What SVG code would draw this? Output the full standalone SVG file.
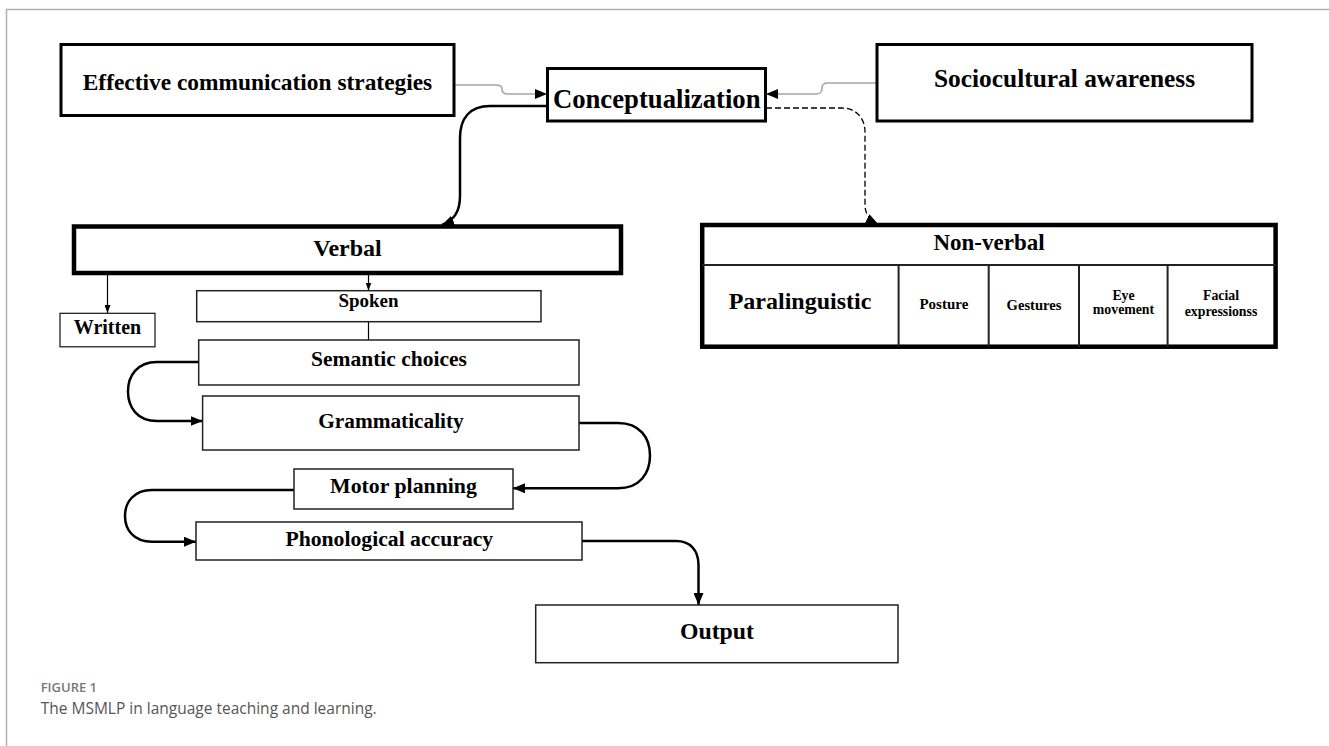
<svg xmlns="http://www.w3.org/2000/svg" width="1329" height="746" viewBox="0 0 1329 746">
<defs>
<style>
.t{font-family:"Liberation Serif","Times New Roman",serif;font-weight:bold;fill:#000;text-anchor:middle}
.box3{fill:#fff;stroke:#000;stroke-width:3}
.box4{fill:#fff;stroke:#000;stroke-width:4.5}
.thin{fill:#fff;stroke:#222;stroke-width:1.5}
.flow{fill:none;stroke:#000;stroke-width:2.5}
.gray{fill:none;stroke:#a6a6a6;stroke-width:1.6}
.cap{font-family:"Open Sans","Liberation Sans",sans-serif}
</style>
<marker id="ah" viewBox="0 0 12 10" refX="12" refY="5" markerWidth="12" markerHeight="10" orient="auto" markerUnits="userSpaceOnUse"><path d="M0,0 L12,5 L0,10 z" fill="#000"/></marker>
<marker id="ahs" viewBox="0 0 8 6" refX="8" refY="3" markerWidth="8" markerHeight="6" orient="auto" markerUnits="userSpaceOnUse"><path d="M0,0 L8,3 L0,6 z" fill="#000"/></marker>
</defs>
<rect width="1329" height="746" fill="#fff"/>
<path d="M6.5,746 V9.5 H1329" fill="none" stroke="#b0b0b0" stroke-width="1.5"/>

<g id="connectors">
<path class="gray" d="M454,85 H496 C501,85 502,87 502,89 C502,92 503,94 508,94 H547" marker-end="url(#ah)"/>
<path class="gray" d="M877,83 H828 C823,83 822,85 822,88 C822,92 821,94 816,94 H766" marker-end="url(#ah)"/>
<path class="flow" d="M547,106 H490 C470,106 460,118 460,138 V196 C460,212 454,220 442,225" marker-end="url(#ah)"/>
<path fill="none" stroke="#000" stroke-width="1.3" stroke-dasharray="6,3" d="M766,108 H842 C856,108 865,118 865,132 V205 C865,214 870,220 878,224" marker-end="url(#ah)"/>
<path fill="none" stroke="#222" stroke-width="1.3" stroke-dasharray="5,3" d="M880,229 H960"/>
<path fill="none" stroke="#000" stroke-width="1.2" d="M107.5,273 V313" marker-end="url(#ahs)"/>
<path fill="none" stroke="#000" stroke-width="1.2" d="M368.5,273 V290.5" marker-end="url(#ahs)"/>
<path fill="none" stroke="#000" stroke-width="1.2" d="M368.5,321.5 V340"/>
<path class="flow" d="M198.7,362 H157 C137,362 128,376 128,391.5 C128,407 137,421 157,421 H202.6" marker-end="url(#ah)"/>
<path class="flow" d="M579,423 H618 C640,423 650,438 650,455.5 C650,473 640,488.3 618,488.3 H513" marker-end="url(#ah)"/>
<path class="flow" d="M294,490 H152 C134,490 125,502 125,516 C125,530 134,541.7 152,541.7 H196" marker-end="url(#ah)"/>
<path class="flow" d="M582,541 H676 C690,541 698.5,550 698.5,565 V605" marker-end="url(#ah)"/>
</g>

<g id="effective">
<rect class="box3" x="61" y="44.5" width="393" height="71"/>
<text class="t" x="257.5" y="90" font-size="23.4">Effective communication strategies</text>
</g>
<g id="conceptualization">
<rect class="box3" x="547.5" y="68.5" width="218" height="52.5"/>
<text class="t" x="656.7" y="108" font-size="26.7">Conceptualization</text>
</g>
<g id="sociocultural">
<rect class="box3" x="877" y="44.5" width="375" height="76.5"/>
<text class="t" x="1064.5" y="87" font-size="25.4">Sociocultural awareness</text>
</g>
<g id="verbal">
<rect class="box4" x="74" y="226.5" width="547" height="46.5"/>
<text class="t" x="347.5" y="256" font-size="24">Verbal</text>
</g>
<g id="written">
<rect fill="#fff" stroke="#111" stroke-width="1.2" x="60" y="313.3" width="95" height="33.5"/>
<text class="t" x="107.5" y="333.5" font-size="20">Written</text>
</g>
<g id="spoken">
<rect class="thin" x="196.7" y="290.7" width="344.3" height="31"/>
<text class="t" x="368.5" y="307" font-size="19">Spoken</text>
</g>
<g id="semantic">
<rect class="thin" x="198.7" y="340" width="380.3" height="45"/>
<text class="t" x="389" y="366" font-size="21.5">Semantic choices</text>
</g>
<g id="grammaticality">
<rect class="thin" x="202.6" y="396" width="376.4" height="54"/>
<text class="t" x="391" y="427.5" font-size="21.3">Grammaticality</text>
</g>
<g id="motor">
<rect class="thin" x="294" y="469" width="219" height="40"/>
<text class="t" x="403.5" y="493" font-size="21.8">Motor planning</text>
</g>
<g id="phonological">
<rect class="thin" x="196" y="522" width="386" height="38"/>
<text class="t" x="389.3" y="545.5" font-size="21.7">Phonological accuracy</text>
</g>
<g id="output">
<rect class="thin" x="535.7" y="605" width="362.3" height="57.7"/>
<text class="t" x="717" y="638.5" font-size="23.8">Output</text>
</g>
<g id="nonverbal">
<rect class="box4" x="702.2" y="225" width="573.4" height="121.7"/>
<path d="M702.2,265 H1275.6 M898.6,265 V346.7 M988.7,265 V346.7 M1079,265 V346.7 M1167.6,265 V346.7" stroke="#222" stroke-width="2" fill="none"/>
<text class="t" x="989" y="249.5" font-size="23">Non-verbal</text>
<text class="t" x="800" y="309" font-size="24">Paralinguistic</text>
<text class="t" x="943.9" y="308.5" font-size="15">Posture</text>
<text class="t" x="1034" y="310" font-size="14.6">Gestures</text>
<text class="t" x="1123.5" y="300" font-size="13.8">Eye</text>
<text class="t" x="1123.5" y="314" font-size="13.8">movement</text>
<text class="t" x="1221" y="300" font-size="13.8">Facial</text>
<text class="t" x="1221" y="316" font-size="13.8">expressionss</text>
</g>

<g id="caption">
<text class="cap" x="40.7" y="692" font-size="13" font-weight="600" fill="#777">FIGURE 1</text>
<text class="cap" x="40.7" y="713.5" font-size="15.5" fill="#555">The MSMLP in language teaching and learning.</text>
</g>
</svg>
